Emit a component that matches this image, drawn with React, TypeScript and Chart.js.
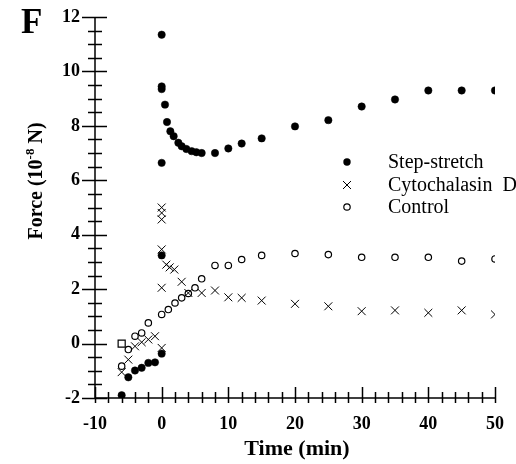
import React, { useEffect, useRef } from 'react';
import { Chart, registerables } from 'chart.js';

Chart.register(...registerables);

// ---- Data ----
const stepTime = [-6, -5, -4, -3, -2, -1, 0, 0, 0, 0, 0, 0, 0.5, 0.8, 1.3, 1.8, 2.5, 3, 3.7, 4.5, 5.2, 6, 8, 10, 12, 15, 20, 25, 30, 35, 40, 45, 50];
const stepForce = [-1.9, -1.24, -0.99, -0.89, -0.71, -0.69, -0.37, 3.24, 6.64, 9.35, 9.45, 11.35, 8.78, 8.14, 7.8, 7.62, 7.38, 7.25, 7.15, 7.07, 7.03, 7.0, 7.0, 7.17, 7.35, 7.54, 7.98, 8.21, 8.71, 8.97, 9.3, 9.3, 9.3];

const cytoTime = [-6, -5, -4, -3, -2, -1, 0, 0, 0, 0, 0, 0, 0.7, 1.2, 1.9, 3, 4, 6, 8, 10, 12, 15, 20, 25, 30, 35, 40, 45, 50];
const cytoForce = [-1.05, -0.59, -0.1, 0.05, 0.15, 0.27, -0.16, 2.05, 3.46, 4.56, 4.8, 5.0, 2.9, 2.8, 2.72, 2.27, 1.86, 1.86, 1.95, 1.7, 1.68, 1.58, 1.46, 1.37, 1.19, 1.22, 1.13, 1.22, 1.07];

const controlTime = [-6, -5, -4, -3, -2, 0, 1, 2, 3, 4, 5, 6, 8, 10, 12, 15, 20, 25, 30, 35, 40, 45, 50];
const controlForce = [-0.83, -0.22, 0.27, 0.39, 0.76, 1.07, 1.25, 1.49, 1.68, 1.84, 2.05, 2.38, 2.87, 2.87, 3.09, 3.24, 3.31, 3.27, 3.17, 3.17, 3.17, 3.03, 3.11];

const squareTime = [-6];
const squareForce = [0.0];

const legendLabels = ['Step-stretch', 'Cytochalasin  D', 'Control'];
const panelLabel = 'F';
const xTitle = 'Time (min)';
const yTitleParts = ['Force (10', '-8', ' N)'];

const xMin = -10, xMax = 50, xMajor = 10, xMinor = 2;
const yMin = -2, yMax = 12, yMajor = 2, yMinor = 0.5;

const SERIF = '"Liberation Serif", "Times New Roman", serif';

function pts(xs: number[], ys: number[]) {
  return xs.map((x, i) => ({ x, y: ys[i] }));
}

function drawMarker(ctx: CanvasRenderingContext2D, kind: number, x: number, y: number) {
  ctx.save();
  ctx.strokeStyle = '#000';
  ctx.fillStyle = '#000';
  if (kind === 0) {
    ctx.beginPath();
    ctx.arc(x, y, 3.7, 0, Math.PI * 2);
    ctx.fill();
  } else if (kind === 1) {
    ctx.lineWidth = 1;
    ctx.beginPath();
    ctx.moveTo(x - 4, y - 4);
    ctx.lineTo(x + 4, y + 4);
    ctx.moveTo(x - 4, y + 4);
    ctx.lineTo(x + 4, y - 4);
    ctx.stroke();
  } else {
    ctx.lineWidth = 1.2;
    ctx.beginPath();
    ctx.arc(x, y, 3.2, 0, Math.PI * 2);
    ctx.stroke();
  }
  ctx.restore();
}

const axesPlugin = {
  id: 'axesPlugin',
  beforeDatasetsDraw(chart: any) {
    const { ctx, scales } = chart;
    const xs = scales.x;
    const ys = scales.y;
    const x0 = xs.getPixelForValue(xMin);
    const y0 = ys.getPixelForValue(yMin);
    ctx.save();
    ctx.strokeStyle = '#000';
    ctx.lineWidth = 1.5;
    ctx.beginPath();
    ctx.moveTo(x0, ys.getPixelForValue(yMax));
    ctx.lineTo(x0, y0);
    ctx.lineTo(xs.getPixelForValue(xMax), y0);
    ctx.stroke();
    ctx.beginPath();
    for (let v = yMin; v <= yMax + 1e-9; v += yMinor) {
      const major = Math.abs(v / yMajor - Math.round(v / yMajor)) < 1e-6;
      const py = Math.round(ys.getPixelForValue(v)) + 0.5;
      ctx.moveTo(x0 - (major ? 13 : 7), py);
      ctx.lineTo(x0 + (major ? 12 : 7), py);
    }
    for (let v = xMin; v <= xMax + 1e-9; v += xMinor) {
      const major = Math.abs(v / xMajor - Math.round(v / xMajor)) < 1e-6;
      const px = Math.round(xs.getPixelForValue(v)) + 0.5;
      ctx.moveTo(px, y0 - (major ? 11 : 6));
      ctx.lineTo(px, y0 + 5);
    }
    ctx.stroke();
    ctx.restore();
  },
};

const textPlugin = {
  id: 'textPlugin',
  afterDraw(chart: any) {
    const { ctx, chartArea } = chart;
    ctx.save();
    ctx.fillStyle = '#000';
    // Panel letter
    ctx.font = `bold 35px ${SERIF}`;
    ctx.textAlign = 'left';
    ctx.textBaseline = 'alphabetic';
    ctx.fillText(panelLabel, 21, 33);
    // X title
    ctx.font = `bold 22px ${SERIF}`;
    ctx.textAlign = 'center';
    ctx.fillText(xTitle, (chartArea.left + chartArea.right) / 2 + 2, 455);
    // Y title with superscript
    ctx.translate(42, 181);
    ctx.rotate(-Math.PI / 2);
    const mainFont = `bold 20px ${SERIF}`;
    const supFont = `bold 13px ${SERIF}`;
    ctx.font = mainFont;
    const w1 = ctx.measureText(yTitleParts[0]).width;
    const w3 = ctx.measureText(yTitleParts[2]).width;
    ctx.font = supFont;
    const w2 = ctx.measureText(yTitleParts[1]).width;
    let sx = -(w1 + w2 + w3) / 2;
    ctx.textAlign = 'left';
    ctx.font = mainFont;
    ctx.fillText(yTitleParts[0], sx, 0);
    sx += w1;
    ctx.font = supFont;
    ctx.fillText(yTitleParts[1], sx, -8);
    sx += w2;
    ctx.font = mainFont;
    ctx.fillText(yTitleParts[2], sx, 0);
    ctx.restore();

    // Legend
    ctx.save();
    ctx.fillStyle = '#000';
    ctx.font = `20px ${SERIF}`;
    ctx.textAlign = 'left';
    ctx.textBaseline = 'alphabetic';
    const baselines = [168, 191, 213];
    legendLabels.forEach((label, i) => {
      drawMarker(ctx, i, 347, baselines[i] - 6);
      ctx.fillText(label, 388, baselines[i]);
    });
    ctx.restore();
  },
};

export default function App() {
  const canvasRef = useRef<HTMLCanvasElement | null>(null);

  useEffect(() => {
    const canvas = canvasRef.current;
    if (!canvas) return;
    const chart = new Chart(canvas, {
      type: 'scatter',
      data: {
        datasets: [
          {
            label: legendLabels[0],
            data: pts(stepTime, stepForce),
            pointStyle: 'circle',
            pointRadius: 3.7,
            backgroundColor: '#000',
            borderColor: '#000',
            borderWidth: 0.5,
          },
          {
            label: legendLabels[1],
            data: pts(cytoTime, cytoForce),
            pointStyle: 'crossRot',
            pointRadius: 5.6,
            backgroundColor: '#000',
            borderColor: '#000',
            borderWidth: 1,
          },
          {
            label: legendLabels[2],
            data: pts(controlTime, controlForce),
            pointStyle: 'circle',
            pointRadius: 3.2,
            backgroundColor: 'rgba(0,0,0,0)',
            borderColor: '#000',
            borderWidth: 1.2,
          },
          {
            label: 'square',
            data: pts(squareTime, squareForce),
            pointStyle: 'rect',
            pointRadius: 5,
            backgroundColor: 'rgba(0,0,0,0)',
            borderColor: '#000',
            borderWidth: 1.2,
          },
        ],
      },
      options: {
        responsive: false,
        animation: false,
        events: [],
        layout: { padding: { top: 17, right: 21, left: 0, bottom: 0 } },
        plugins: {
          legend: { display: false },
          tooltip: { enabled: false },
          title: { display: false },
        },
        scales: {
          x: {
            type: 'linear',
            min: xMin,
            max: xMax,
            grid: { display: false, drawTicks: false },
            border: { display: false },
            ticks: {
              stepSize: xMajor,
              color: '#000',
              padding: 16,
              maxRotation: 0,
              font: { family: SERIF, size: 18, weight: 'bold' },
            },
            afterFit: (s: any) => {
              s.height = 66;
              s.paddingLeft = 0;
              s.paddingRight = 0;
            },
          },
          y: {
            type: 'linear',
            min: yMin,
            max: yMax,
            grid: { display: false, drawTicks: false },
            border: { display: false },
            ticks: {
              stepSize: yMajor,
              color: '#000',
              padding: 15,
              font: { family: SERIF, size: 18, weight: 'bold' },
            },
            afterFit: (s: any) => {
              s.width = 95;
              s.paddingTop = 0;
              s.paddingBottom = 0;
            },
          },
        },
      },
      plugins: [axesPlugin, textPlugin],
    } as any);
    return () => chart.destroy();
  }, []);

  return (
    <div style={{ position: 'absolute', left: 0, top: 0, width: 516, height: 464, background: '#fff' }}>
      <canvas ref={canvasRef} width={516} height={464} style={{ display: 'block', width: 516, height: 464 }} />
    </div>
  );
}
